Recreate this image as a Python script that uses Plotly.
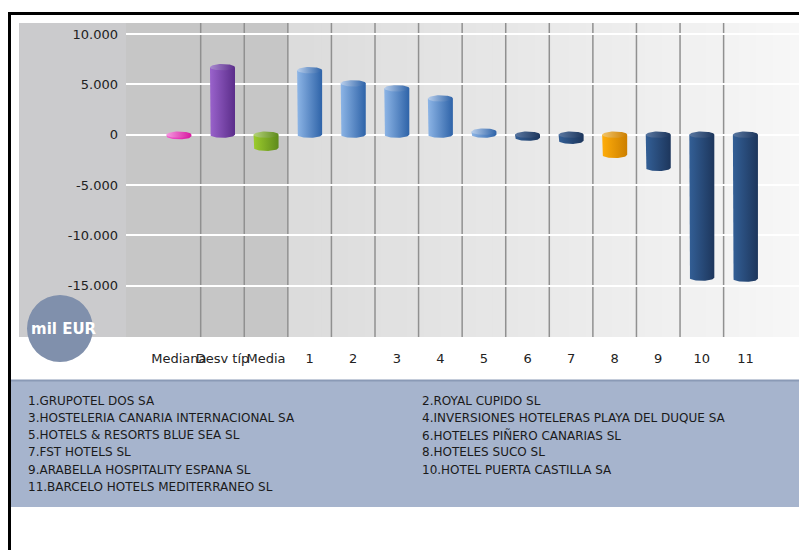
import numpy as np
import plotly.graph_objects as go

# ---------------- data ----------------
categories = ["Mediana", "Desv típ", "Media", "1", "2", "3", "4", "5", "6", "7", "8", "9", "10", "11"]
values = [-150, 6700, -1300, 6400, 5100, 4600, 3600, 300, -300, -600, -2000, -3300, -14200, -14300]
y_ticks = [-15000, -10000, -5000, 0, 5000, 10000]
companies = [
    "1.GRUPOTEL DOS SA",
    "2.ROYAL CUPIDO SL",
    "3.HOSTELERIA CANARIA INTERNACIONAL SA",
    "4.INVERSIONES HOTELERAS PLAYA DEL DUQUE SA",
    "5.HOTELS & RESORTS BLUE SEA SL",
    "6.HOTELES PIÑERO CANARIAS SL",
    "7.FST HOTELS SL",
    "8.HOTELES SUCO SL",
    "9.ARABELLA HOSPITALITY ESPANA SL",
    "10.HOTEL PUERTA CASTILLA SA",
    "11.BARCELO HOTELS MEDITERRANEO SL",
]
highlight = "8"
unit_label = "mil EUR"

# ---------------- styles ----------------
STYLE = {
    "Mediana": (["#f25bd0", "#d8179f"], "#f49ae0"),
    "Desv típ": (["#9a63cc", "#5b2d8a"], "#a98bd0"),
    "Media": (["#9ccc2c", "#5e8a1c"], "#b4d27a"),
    "pos": (["#8db5e6", "#2e63a8"], "#b9cfec"),
    "neg": (["#335f96", "#1d365c"], "#5a78a2"),
    "hl": (["#ffad0a", "#cc7f00"], "#f2c56a"),
}

W, H = 799, 550
PL, PR, PT, PB = 126, 799, 23, 337          # plot area in pixels
X_RANGE = [-1.214, 14.23]
Y_RANGE = [-20090, 11090]
FONT = "DejaVu Sans"


def px(x):
    return (x - PL) / (PR - PL)


def py(y):
    return (PB - y) / (PB - PT)


def style_for(cat, v):
    if cat in STYLE:
        return STYLE[cat]
    if cat == highlight:
        return STYLE["hl"]
    return STYLE["pos"] if v >= 0 else STYLE["neg"]


fig = go.Figure()

half_w = 0.287
ry = 3.2 * (Y_RANGE[1] - Y_RANGE[0]) / (PB - PT)
theta_low = np.linspace(np.pi, 2 * np.pi, 30)
theta_full = np.linspace(0, 2 * np.pi, 60)

for i, (cat, v) in enumerate(zip(categories, values)):
    body_cols, cap_col = style_for(cat, v)
    hi, lo = max(0, v), min(0, v)
    xs = [i - half_w, i - half_w] + list(i + half_w * np.cos(theta_low)) + [i + half_w, i + half_w, i - half_w]
    ys = [hi, lo] + list(lo + ry * np.sin(theta_low)) + [lo, hi, hi]
    fig.add_trace(go.Scatter(
        x=xs, y=ys, mode="lines", fill="toself", line=dict(width=0),
        fillgradient=dict(type="horizontal", colorscale=[[0, body_cols[0]], [1, body_cols[1]]]),
        hoverinfo="skip", showlegend=False))
    fig.add_trace(go.Scatter(
        x=list(i + half_w * np.cos(theta_full)), y=list(hi + ry * np.sin(theta_full)),
        mode="lines", fill="toself", line=dict(width=0),
        fillgradient=dict(type="horizontal", colorscale=[[0, cap_col], [1, body_cols[1]]]),
        hoverinfo="skip", showlegend=False))

shapes = []
# outer black frame
shapes.append(dict(type="rect", xref="paper", yref="paper", x0=px(9.5), x1=px(840), y0=py(13.5), y1=py(600),
                   line=dict(color="black", width=3), fillcolor="rgba(0,0,0,0)", layer="below"))
# left label panel
shapes.append(dict(type="rect", xref="paper", yref="paper", x0=px(19), x1=px(PL), y0=py(PT), y1=py(PB),
                   line=dict(width=0), fillcolor="#cbcbcd", layer="below"))
# dark stats region
split = 2.5
split_px = PL + (split - X_RANGE[0]) / (X_RANGE[1] - X_RANGE[0]) * (PR - PL)
shapes.append(dict(type="rect", xref="paper", yref="paper", x0=0, x1=px(split_px), y0=0, y1=1,
                   line=dict(width=0), fillcolor="#c6c6c6", layer="below"))
# gradient region
n = 60
c0, c1 = np.array([220, 220, 220]), np.array([247, 247, 247])
for k in range(n):
    a = px(split_px) + (1 - px(split_px)) * k / n
    b = px(split_px) + (1 - px(split_px)) * (k + 1) / n + 0.002
    c = (c0 + (c1 - c0) * k / (n - 1)).astype(int)
    shapes.append(dict(type="rect", xref="paper", yref="paper", x0=a, x1=min(b, 1), y0=0, y1=1,
                       line=dict(width=0), fillcolor=f"rgb({c[0]},{c[1]},{c[2]})", layer="below"))
# vertical separators
for i in range(len(categories) - 1):
    shapes.append(dict(type="line", xref="x", yref="paper", x0=i + 0.5, x1=i + 0.5, y0=0, y1=1,
                       line=dict(color="#909090", width=1.5), layer="between"))
# legend panel
shapes.append(dict(type="rect", xref="paper", yref="paper", x0=px(11), x1=px(840), y0=py(380), y1=py(507),
                   line=dict(width=0), fillcolor="#a6b4cd", layer="below"))
shapes.append(dict(type="line", xref="paper", yref="paper", x0=px(11), x1=px(840), y0=py(380.5), y1=py(380.5),
                   line=dict(color="#8a9ab6", width=2), layer="below"))
# unit circle
shapes.append(dict(type="circle", xref="paper", yref="paper", x0=px(27), x1=px(93), y0=py(295), y1=py(362),
                   line=dict(width=0), fillcolor="#8090ac", layer="above"))

annotations = [dict(text=f"<b>{unit_label}</b>", xref="paper", yref="paper", x=px(63.5), y=py(329),
                    showarrow=False, font=dict(family=FONT, size=15, color="white"),
                    xanchor="center", yanchor="middle")]
row_y0, row_dy = 400.7, 17.2
for j, name in enumerate(companies):
    col, row = j % 2, j // 2
    annotations.append(dict(text=name, xref="paper", yref="paper",
                            x=px(26 if col == 0 else 420), y=py(row_y0 + row * row_dy),
                            showarrow=False, xanchor="left", yanchor="middle",
                            font=dict(family=FONT, size=12, color="#1a1a1a")))

fig.update_layout(
    width=W, height=H,
    margin=dict(l=PL, r=W - PR, t=PT, b=H - PB),
    paper_bgcolor="white", plot_bgcolor="rgba(0,0,0,0)",
    shapes=shapes, annotations=annotations,
    font=dict(family=FONT, size=13, color="#222"),
    xaxis=dict(range=X_RANGE, tickvals=list(range(len(categories))), ticktext=categories,
               showgrid=False, zeroline=False, showline=False, ticks="", tickangle=0,
               ticklabelstandoff=12, tickfont=dict(size=13, color="#222"), fixedrange=True),
    yaxis=dict(range=Y_RANGE, tickvals=y_ticks,
               ticktext=[f"{v:,}".replace(",", ".") for v in y_ticks],
               showgrid=True, gridcolor="white", gridwidth=2,
               zeroline=True, zerolinecolor="white", zerolinewidth=2,
               showline=False, ticks="", ticklabelstandoff=7,
               tickfont=dict(size=13, color="#222"), fixedrange=True),
    showlegend=False,
)

fig.write_html("out.html")
